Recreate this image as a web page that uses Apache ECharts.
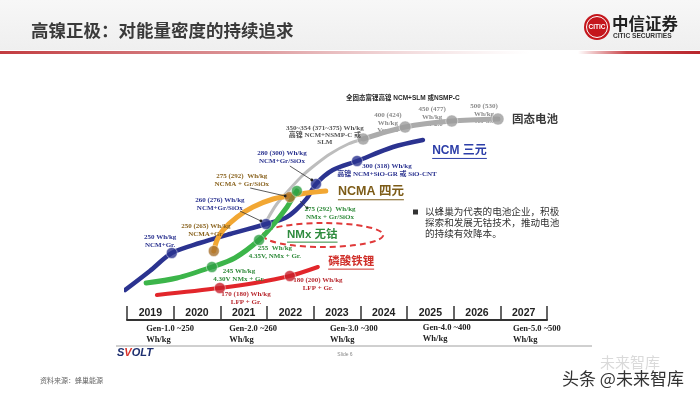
<!DOCTYPE html>
<html><head><meta charset="utf-8">
<script src="https://cdn.jsdelivr.net/npm/echarts@6/dist/echarts.min.js"></script>
<style>html,body{margin:0;padding:0;background:#fff;}#c{width:700px;height:394px;}</style>
</head><body><div id="c"></div>
<script>
// ---------- DATA (x = year, y = relative energy-density level) ----------
const years = ['2019','2020','2021','2022','2023','2024','2025','2026','2027'];

const ncmLine   = [[2018.96,30],[2019.49,49],[2019.96,67],[2020.56,77],[2021.21,86],[2021.98,96],[2022.39,102],[2022.62,110],[2022.86,122],[2023.05,136],[2023.41,150],[2023.93,159],[2024.70,173],[2025.34,180]];
const ncmPoints = [[2019.96,67],[2021.98,96],[2023.05,136],[2023.93,159]];

const solidArc    = [[2022.00,100],[2022.21,116],[2022.49,131],[2022.75,144],[2023.03,155],[2023.35,166],[2023.74,176],[2024.06,181]];
const solidLine   = [[2024.06,181],[2024.96,193],[2025.96,199],[2026.95,201]];
const solidPoints = [[2024.06,181],[2024.96,193],[2025.96,199],[2026.95,201]];

const ncmaLine   = [[2020.86,69],[2020.93,80],[2021.06,90],[2021.36,103],[2021.70,113],[2022.13,121],[2022.49,124],[2022.86,127],[2023.26,129]];
const ncmaPoints = [[2020.86,69],[2022.49,123]];

const nmxLine   = [[2019.41,37],[2020.07,42],[2020.82,53],[2021.31,62],[2021.83,80],[2022.13,95],[2022.43,113],[2022.56,123],[2022.64,129]];
const nmxPoints = [[2020.82,53],[2021.83,80],[2022.64,129]];

const lfpLine   = [[2019.64,25],[2020.99,32],[2021.74,37],[2022.49,44],[2023.09,53]];
const lfpPoints = [[2020.99,32],[2022.49,44]];

const ncmNotes  = [[2019.71,79,'250 Wh/kg\nNCM+Gr.'],[2020.99,116,'260 (276) Wh/kg\nNCM+Gr/SiOx'],[2022.32,163,'280 (300) Wh/kg\nNCM+Gr/SiOx'],[2024.57,150,'300 (318) Wh/kg\n高镍 NCM+SiO-GR 或 SiO-CNT']];
const ncmaNotes = [[2020.69,90,'250 (265) Wh/kg\nNCMA+Gr.'],[2021.46,140,'275 (292)  Wh/kg\nNCMA + Gr/SiOx']];
const nmxNotes  = [[2021.40,45,'245 Wh/kg\n4.30V NMx + Gr.'],[2022.17,68,'255  Wh/kg\n4.35V, NMx + Gr.'],[2023.35,107,'275 (292)  Wh/kg\nNMx + Gr/SiOx']];
const lfpNotes  = [[2021.55,22,'170 (180) Wh/kg\nLFP + Gr.'],[2023.09,36,'180 (200) Wh/kg\nLFP + Gr.']];
const solidNotes = [[2023.24,185,'350~354 (371~375) Wh/kg\n高镍 NCM+NSMP-C 或\nSLM']];
const verNotes  = [[2024.59,197,'400 (424)\nWh/kg\nVer 1.0'],[2025.54,203,'450 (477)\nWh/kg\nVer 2.0'],[2026.65,206,'500 (530)\nWh/kg\nVer 3.0']];
const topNotes  = [[2024.91,222,'全固态富锂高镍 NCM+SLM 或NSMP-C']];
const seriesNames = [[2027.25,200,'固态电池'],[2025.54,169,'NCM 三元'],[2023.52,128,'NCMA 四元'],[2022.43,85,'NMx 无钴'],[2023.31,58,'磷酸铁锂']];
const genNotes  = [[2019.41,-14,'Gen-1.0 ~250\nWh/kg'],[2021.19,-14,'Gen-2.0 ~260\nWh/kg'],[2023.35,-14,'Gen-3.0 ~300\nWh/kg'],[2025.34,-13,'Gen-4.0 ~400\nWh/kg'],[2027.27,-14,'Gen-5.0 ~500\nWh/kg']];
const pointers  = [[2021.42,109,2021.87,99],[2022.49,154,2022.96,140],[2021.64,132,2022.39,124],[2022.71,119,2022.86,112]];
const nmxZone   = [[2023.2,85,1.29,12]];
const bulletLines = ['以蜂巢为代表的电池企业，积极','探索和发展无钴技术，推动电池','的持续有效降本。'];
const titleText = '高镍正极：对能量密度的持续追求';
const sourceText = '资料来源：蜂巢能源';

// ---------- STYLES ----------
const SERIF = '"Liberation Serif","Noto Sans CJK SC",serif';
const SANS = '"Liberation Sans","Noto Sans CJK SC",sans-serif';
const CJK = '"Noto Sans CJK SC","Liberation Sans",sans-serif';
const C = {ncm:'#2b3390', solid:'#ababab', ncma:'#f2a733', ncmaDot:'#a8702c', nmx:'#3cb54a', nmxDot:'#2ea043', lfp:'#e2262b', lfpDot:'#c81f2a'};
const nameStyles = [
  {color:'#3a3a3a', size:11.5, underline:false},
  {color:'#2c3ea8', size:12, underline:true},
  {color:'#7d5c18', size:12.5, underline:true},
  {color:'#2e8b3e', size:11.5, underline:true},
  {color:'#d0302a', size:11.5, underline:true}
];
const mctx = document.createElement('canvas').getContext('2d');
function tw(t, font){ mctx.font = font; return mctx.measureText(t).width; }

function notesSeries(arr, font, color, align, z, lh){
  return {
    type:'custom', z:z, silent:true, clip:false,
    data: arr.map(d => [d[0], d[1]]),
    encode:{x:0, y:1},
    renderItem:function(params, api){
      const p = api.coord([api.value(0), api.value(1)]);
      return {type:'text', x:p[0], y:p[1], style:{text:arr[params.dataIndex][2], font:font, fill:color, align:align, verticalAlign:'middle', lineHeight:lh}};
    }
  };
}
function lineSeries(data, color, width, z){
  return {type:'line', data:data, smooth:0.3, showSymbol:false, symbol:'none', clip:false, z:z, silent:true,
    lineStyle:{color:color, width:width, cap:'round', join:'round'}};
}
function dotSeries(data, color, size, z){
  return {type:'scatter', data:data, symbolSize:size, z:z, silent:true, clip:false,
    itemStyle:{color:color, borderColor:'rgba(255,255,255,0.55)', borderWidth:1}};
}

const chart = echarts.init(document.getElementById('c'), null, {renderer:'canvas'});
const option = {
  backgroundColor:'#ffffff',
  animation:false,
  grid:{left:127, top:90, width:420, height:230},
  xAxis:[
    {type:'value', min:2019, max:2028, show:false, position:'top'},
    {type:'category', data:years, boundaryGap:true, position:'bottom',
     axisLine:{show:true, lineStyle:{color:'#333', width:2}},
     axisTick:{show:true, inside:true, length:14, interval:0, lineStyle:{color:'#333', width:1.5}},
     axisLabel:{inside:true, margin:2, fontSize:10.5, fontWeight:'bold', color:'#222', fontFamily:SANS},
     splitLine:{show:false}}
  ],
  yAxis:{type:'value', min:0, max:230, show:false},
  series:[
    {type:'custom', z:1, silent:true, clip:false, data:nmxZone, encode:{x:0, y:1},
     renderItem:function(params, api){
       const c = api.coord([api.value(0), api.value(1)]);
       const s = api.size([api.value(2), api.value(3)]);
       const rx = s[0], ry = s[1], x = c[0], y = c[1];
       return {type:'path', shape:{pathData:'M '+(x-rx)+' '+y+' A '+rx+' '+ry+' 0 1 0 '+(x+rx)+' '+y+' A '+rx+' '+ry+' 0 1 0 '+(x-rx)+' '+y+' Z'},
         style:{fill:'none', stroke:'#e03a3a', lineWidth:2, lineDash:[6,4]}};
     }},
    notesSeries(verNotes, 'bold 7px '+SERIF, '#8a8a8a', 'center', 2, 7.5),
    lineSeries(solidArc, '#bdbdbd', 3, 3),
    lineSeries(solidLine, C.solid, 5, 3),
    lineSeries(ncmLine, C.ncm, 4.5, 4),
    lineSeries(ncmaLine, C.ncma, 5, 5),
    lineSeries(nmxLine, C.nmx, 5, 6),
    lineSeries(lfpLine, C.lfp, 4, 6),
    dotSeries(solidPoints, '#9c9c9c', 12, 8),
    dotSeries(ncmPoints, C.ncm, 11, 8),
    dotSeries(ncmaPoints, C.ncmaDot, 11, 8),
    dotSeries(nmxPoints, C.nmxDot, 11, 8),
    dotSeries(lfpPoints, C.lfpDot, 11, 8),
    {type:'custom', z:9, silent:true, clip:false, data:pointers, encode:{x:[0,2], y:[1,3]},
     renderItem:function(params, api){
       const a = api.coord([api.value(0), api.value(1)]);
       const b = api.coord([api.value(2), api.value(3)]);
       return {type:'group', children:[
         {type:'line', shape:{x1:a[0], y1:a[1], x2:b[0], y2:b[1]}, style:{stroke:'#333', lineWidth:0.8}},
         {type:'circle', shape:{cx:b[0], cy:b[1], r:1.4}, style:{fill:'#222'}}
       ]};
     }},
    notesSeries(ncmNotes, 'bold 7px '+SERIF, C.ncm, 'center', 10, 7.5),
    notesSeries(ncmaNotes, 'bold 7px '+SERIF, '#8a6420', 'center', 10, 7.5),
    notesSeries(nmxNotes, 'bold 7px '+SERIF, '#2f8a3a', 'center', 10, 7.5),
    notesSeries(lfpNotes, 'bold 7px '+SERIF, '#b8282e', 'center', 10, 7.5),
    notesSeries(solidNotes, 'bold 7px '+SERIF, '#555', 'center', 10, 6.8),
    notesSeries(topNotes, 'bold 6.5px '+SANS, '#2a2a2a', 'center', 10, 8),
    notesSeries(genNotes, 'bold 8.5px '+SERIF, '#222', 'left', 10, 11),
    {type:'custom', z:11, silent:true, clip:false, data:seriesNames.map(d=>[d[0],d[1]]), encode:{x:0, y:1},
     renderItem:function(params, api){
       const p = api.coord([api.value(0), api.value(1)]);
       const st = nameStyles[params.dataIndex];
       const txt = seriesNames[params.dataIndex][2];
       const font = 'bold '+st.size+'px '+SANS;
       const w = tw(txt, font);
       const ch = [{type:'text', x:p[0], y:p[1], style:{text:txt, font:font, fill:st.color, align:'left', verticalAlign:'middle'}}];
       if (st.underline) ch.push({type:'line', shape:{x1:p[0], y1:p[1]+st.size*0.62, x2:p[0]+w, y2:p[1]+st.size*0.62}, style:{stroke:st.color, lineWidth:1}});
       return {type:'group', children:ch};
     }}
  ],
  graphic:[
    {type:'rect', x:0, y:0, z:-10, shape:{width:700, height:50},
     style:{fill:new echarts.graphic.LinearGradient(0,0,0,1,[{offset:0,color:'#f7f7f7'},{offset:1,color:'#efefef'}])}},
    {type:'rect', x:0, y:51, shape:{width:530, height:3},
     style:{fill:new echarts.graphic.LinearGradient(0,0,1,0,[{offset:0,color:'#c23b3f'},{offset:0.5,color:'rgba(200,90,95,0.6)'},{offset:1,color:'rgba(220,160,165,0)'}])}},
    {type:'rect', x:578, y:51, shape:{width:122, height:3},
     style:{fill:new echarts.graphic.LinearGradient(0,0,1,0,[{offset:0,color:'rgba(200,60,65,0)'},{offset:0.4,color:'#c9454a'},{offset:1,color:'#b8262c'}])}},
    {type:'text', x:31, y:30, style:{text:titleText, font:'bold 17.5px '+CJK, fill:'#3a3a3a', verticalAlign:'middle', textVerticalAlign:'middle'}},
    {type:'circle', shape:{cx:597, cy:27, r:13}, style:{fill:'#c4161c'}},
    {type:'circle', shape:{cx:597, cy:27, r:10.5}, style:{fill:'none', stroke:'#fff', lineWidth:1}},
    {type:'text', x:597, y:27, style:{text:'CITIC', font:'bold 6.5px '+SANS, fill:'#fff', align:'center', verticalAlign:'middle', textAlign:'center', textVerticalAlign:'middle'}},
    {type:'text', x:612, y:24, style:{text:'中信证券', font:'bold 16.5px '+CJK, fill:'#222', verticalAlign:'middle', textVerticalAlign:'middle'}},
    {type:'text', x:613, y:36, style:{text:'CITIC SECURITIES', font:'bold 6.6px '+SANS, fill:'#333', verticalAlign:'middle', textVerticalAlign:'middle'}},
    {type:'rect', x:413, y:209.5, shape:{width:5, height:5}, style:{fill:'#333'}},
    {type:'text', x:425, y:206, style:{text:bulletLines.join('\n'), font:'9.6px '+CJK, fill:'#333', lineHeight:11}},
    {type:'line', shape:{x1:116, y1:346, x2:592, y2:346}, style:{stroke:'#a0a0a0', lineWidth:1}},
    {type:'text', x:117, y:353, style:{text:'{a|S}{b|V}{a|OLT}', verticalAlign:'middle', textVerticalAlign:'middle',
      rich:{a:{font:'italic bold 11px '+SANS, fill:'#1d2f6f'}, b:{font:'italic bold 11px '+SANS, fill:'#d8342c'}}}},
    {type:'text', x:345, y:355, style:{text:'Slide 6', font:'5px '+SANS, fill:'#888', align:'center', textAlign:'center', verticalAlign:'middle', textVerticalAlign:'middle'}},
    {type:'text', x:40, y:380, style:{text:sourceText, font:'7px '+CJK, fill:'#666', verticalAlign:'middle', textVerticalAlign:'middle'}},
    {type:'text', x:600, y:362, style:{text:'未来智库', font:'15px '+CJK, fill:'rgba(150,150,150,0.35)', verticalAlign:'middle', textVerticalAlign:'middle'}},
    {type:'text', x:562, y:379, style:{text:'头条 @未来智库', font:'17px '+CJK, fill:'#333', stroke:'#fff', lineWidth:2, verticalAlign:'middle', textVerticalAlign:'middle'}}
  ]
};
chart.setOption(option);
</script>
</body></html>
